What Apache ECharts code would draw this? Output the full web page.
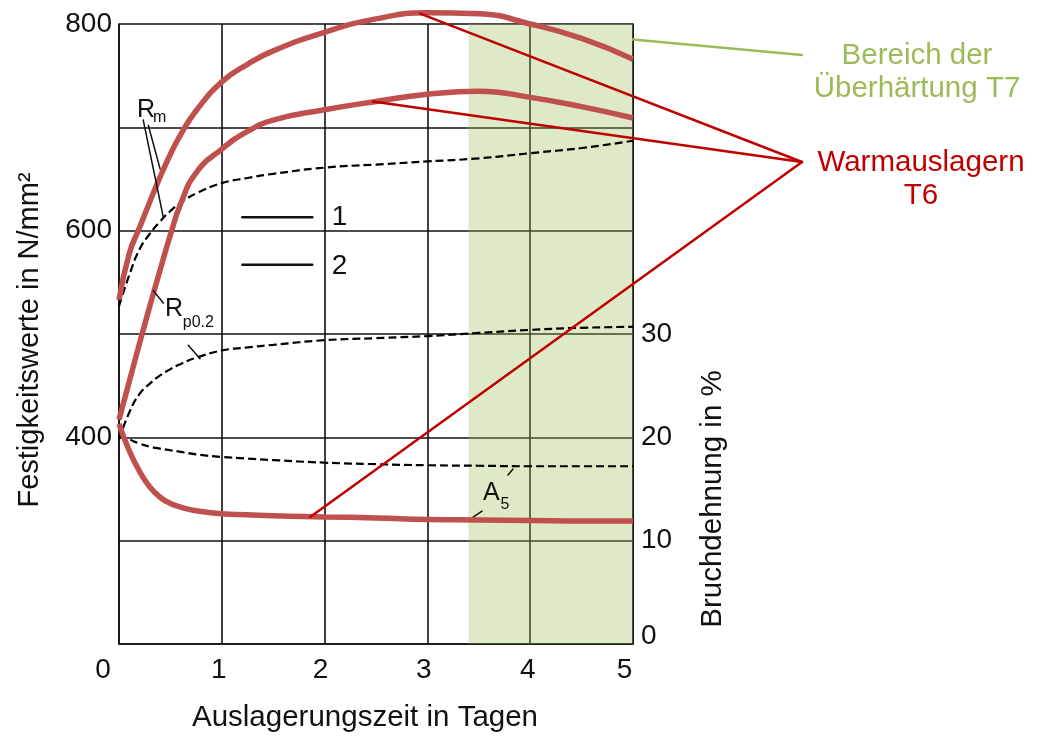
<!DOCTYPE html>
<html><head><meta charset="utf-8">
<script src="https://cdn.jsdelivr.net/npm/echarts@6/dist/echarts.min.js"></script>
<style>html,body{margin:0;padding:0;background:#fff}#c{width:1042px;height:738px}</style>
</head><body><div id="c"></div>
<script>
// ---- data ----
const days = [0, 0.1, 0.2, 0.3, 0.4, 0.5, 0.6, 0.75, 1, 1.25, 1.5, 2, 2.5, 3, 3.5, 4, 4.5, 5];
// Zugfestigkeit Rm, N/mm²
const rm1 = [527, 557, 582, 597, 609, 619, 627, 636, 646, 651, 655, 661, 664, 667, 670, 675, 680, 687];
const rm2 = [533, 578, 603, 628, 652, 674, 693, 716, 744, 761, 774, 792, 805, 811, 810, 800, 786, 766];
// Dehngrenze Rp0.2, N/mm²
const rp1 = [398, 424, 442, 452, 460, 466, 471, 477, 484, 487, 489.5, 494, 496, 498, 501, 504, 506, 507];
const rp2 = [417, 454, 491, 527, 562, 596, 626, 656, 679, 696, 707, 717, 725, 732, 735, 729, 720, 709];
// Bruchdehnung A5, %
const a5_1 = [20.2, 19.8, 19.4, 19.1, 18.9, 18.75, 18.6, 18.35, 18.1, 17.95, 17.8, 17.55, 17.4, 17.3, 17.25, 17.2, 17.2, 17.2];
const a5_2 = [21.3, 18.7, 16.7, 15.2, 14.2, 13.6, 13.25, 12.9, 12.6, 12.5, 12.4, 12.3, 12.2, 12.05, 12.0, 11.95, 11.9, 11.9];
const xTicks = [0, 1, 2, 3, 4, 5];
const leftTickLabels = [400, 600, 800];
const rightTickLabels = [0, 10, 20, 30];
const overagedRange = [3.4, 5];

const FONT = '"Liberation Sans", Arial, Helvetica, sans-serif';
const pair = arr => days.map((d, i) => [d, arr[i]]);
const chart = echarts.init(document.getElementById('c'), null, {renderer: 'canvas'});

const xShift = {0: 32, 1: 6, 2: 8, 3: 7, 4: 5, 5: 17};
const xRich = {};
xTicks.forEach(v => { xRich['s' + v] = {padding: [0, xShift[v], 0, 0], fontSize: 28, fontFamily: FONT, color: '#111'}; });

const dashed = {color: '#000', width: 2.2, type: [8, 4]};
const thin = {color: '#000', width: 2};
const red = {color: '#C0504D', width: 5.5};

function line(data, yi, style, z) {
  return {type: 'line', data: pair(data), yAxisIndex: yi, showSymbol: false, smooth: 0.5, clip: false,
    lineStyle: style, itemStyle: {color: style.color}, z: z, silent: true, animation: false};
}

chart.setOption({
  animation: false,
  textStyle: {fontFamily: FONT},
  grid: {left: 119, right: 409, top: 24, bottom: 94},
  xAxis: {
    type: 'value', min: 0, max: 5, interval: 1,
    axisLine: {show: true, onZero: false, lineStyle: {color: '#111', width: 1.6}},
    axisTick: {show: false},
    splitLine: {show: true, lineStyle: {color: '#111', width: 1.6}},
    axisLabel: {margin: 12, formatter: v => '{s' + v + '|' + v + '}', rich: xRich},
    name: 'Auslagerungszeit in Tagen', nameLocation: 'middle', nameGap: 59,
    nameTextStyle: {fontSize: 29.5, color: '#111', fontFamily: FONT, padding: [0, 22, 0, 0]}
  },
  yAxis: [{
    type: 'value', min: 200, max: 800, interval: 100, position: 'left',
    axisLine: {show: true, lineStyle: {color: '#111', width: 1.6}},
    axisTick: {show: false},
    splitLine: {show: true, lineStyle: {color: '#111', width: 1.6}},
    axisLabel: {margin: 7, fontSize: 28, color: '#111', fontFamily: FONT,
      formatter: v => leftTickLabels.includes(v) ? String(v) : ''},
    name: 'Festigkeitswerte in N/mm²', nameLocation: 'middle', nameGap: 75,
    nameTextStyle: {fontSize: 29, color: '#111', fontFamily: FONT, padding: [0, 12, 0, 0]}
  }, {
    type: 'value', min: 0, max: 60, interval: 10, position: 'right',
    axisLine: {show: true, lineStyle: {color: '#111', width: 1.6}},
    axisTick: {show: false},
    splitLine: {show: false},
    axisLabel: {margin: 8, formatter: v => rightTickLabels.includes(v) ? (v === 0 ? '{z|0}' : '{n|' + v + '}') : '',
      rich: {z: {fontSize: 28, color: '#111', fontFamily: FONT, padding: [0, 0, 16, 0]},
             n: {fontSize: 28, color: '#111', fontFamily: FONT}}}
  }],
  series: [
    line(rm1, 0, dashed, 2),
    line(rp1, 0, dashed, 2),
    line(a5_1, 1, dashed, 2),
    line(rm2, 0, thin, 2),
    line(rp2, 0, thin, 2),
    line(a5_2, 1, thin, 2),
    {type: 'line', data: [], z: 3, silent: true,
     markArea: {silent: true, itemStyle: {color: 'rgba(155,187,89,0.33)'},
       data: [[{xAxis: overagedRange[0]}, {xAxis: overagedRange[1]}]]}},
    line(rm2, 0, red, 4),
    line(rp2, 0, red, 4),
    line(a5_2, 1, red, 4)
  ]
});

// ---- annotations ----
const P = (x, y) => chart.convertToPixel({seriesIndex: 0}, [x, y]);
const PR = (x, y) => chart.convertToPixel({seriesIndex: 2}, [x, y]);
function T(pt, s, size, color, opt) {
  opt = opt || {};
  return {type: 'text', x: pt[0], y: pt[1], z: opt.z != null ? opt.z : 10, rotation: opt.rotation || 0,
    style: {text: s, fill: color || '#111', font: size + 'px ' + FONT,
      align: opt.align || 'left', textAlign: opt.align || 'left',
      verticalAlign: 'middle', textVerticalAlign: 'middle', lineHeight: opt.lineHeight}};
}
function L(a, b, color, w, z) {
  return {type: 'line', z: z != null ? z : 10, shape: {x1: a[0], y1: a[1], x2: b[0], y2: b[1]},
    style: {stroke: color, lineWidth: w, lineCap: 'round'}};
}
const green = '#9BBB59', dred = '#C00000';
const t6Anchor = [802, 162];
const t7Anchor = [802, 55];
const els = [
  // Rm label + leader lines
  T(P(0.175, 717), 'R', 25), T(P(0.33, 709), 'm', 16),
  L(P(0.236, 707), P(0.431, 613), '#111', 1.5), L(P(0.285, 702), P(0.399, 660), '#111', 1.5),
  // Rp0.2 label + leader lines
  T(P(0.447, 524), 'R', 25), T(P(0.62, 511), 'p0.2', 16),
  L(P(0.334, 542), P(0.431, 530), '#111', 1.5), L(P(0.674, 489), P(0.788, 476), '#111', 1.5),
  // in-plot legend
  L(P(1.2, 613), P(1.88, 613), '#111', 2.5), T(P(2.07, 613), '1', 28),
  L(P(1.2, 567), P(1.88, 567), '#111', 2.5), T(P(2.07, 566), '2', 28),
  // A5 label
  T(PR(3.54, 14.6), 'A', 25, '#111', {z: 2}), T(PR(3.71, 13.5), '5', 16, '#111', {z: 2}),
  L(PR(3.784, 16.36), PR(3.833, 16.94), '#111', 1.5, 2), L(PR(3.531, 12.87), PR(3.444, 12.29), '#111', 1.5, 2),
  // T7 annotation
  L(P(5, 785), t7Anchor, green, 2.5),
  T([917, 72], 'Bereich der\nÜberhärtung T7', 29.5, green, {align: 'center', lineHeight: 33}),
  // T6 annotation
  L(P(2.93, 810), t6Anchor, dred, 2.5), L(P(2.47, 725), t6Anchor, dred, 2.5), L(PR(1.86, 12.3), t6Anchor, dred, 2.5),
  T([921, 179], 'Warmauslagern\nT6', 29.5, dred, {align: 'center', lineHeight: 33}),
  // right axis title
  T([713, 499], 'Bruchdehnung in %', 29.5, '#111', {align: 'center', rotation: Math.PI / 2})
];
chart.setOption({graphic: {elements: els}});
</script>
</body></html>
